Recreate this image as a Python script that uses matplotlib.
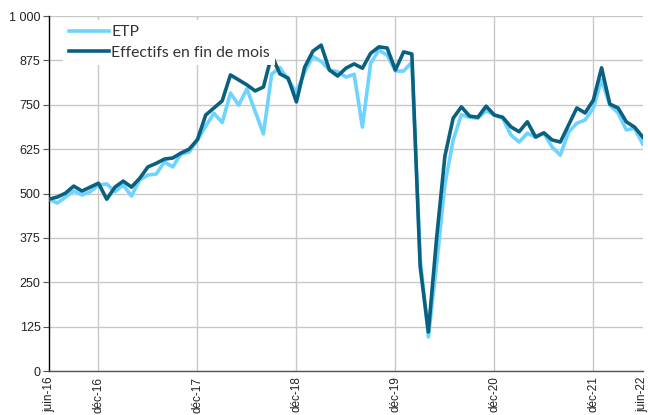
import numpy as np
import matplotlib.pyplot as plt
from matplotlib.ticker import FuncFormatter

# ==========================================================
# DATA (monthly, juin-16 -> juin-22)
# ==========================================================

etp = [
    484, 473, 490, 507, 496, 505, 524, 527, 505, 524, 493, 538,
    552, 555, 589, 575, 611, 617, 650, 690, 726, 700, 783, 749,
    795, 731, 668, 836, 855, 820, 785, 842, 886, 872, 848, 843,
    828, 836, 687, 867, 904, 890, 845, 845, 870, 320, 96, 300,
    525, 650, 722, 715, 712, 733, 721, 712, 665, 645, 670, 659,
    670, 631, 608, 673, 698, 707, 741, 820, 749, 727, 679, 684,
    639,
]

effectifs = [
    484, 490, 501, 521, 507, 518, 529, 484, 518, 535, 518, 543,
    575, 585, 597, 600, 614, 625, 652, 721, 741, 761, 834, 820,
    806, 789, 800, 890, 837, 825, 758, 856, 901, 918, 848, 831,
    853, 865, 853, 895, 913, 910, 848, 899, 893, 295, 110, 375,
    605, 712, 744, 718, 715, 746, 721, 715, 688, 674, 702, 659,
    671, 651, 645, 693, 741, 727, 763, 854, 752, 741, 702, 687,
    659,
]

tick_pos = [0, 6, 18, 30, 42, 54, 66, 72]
tick_labels = ["juin-16", "déc-16", "déc-17", "déc-18", "déc-19",
               "déc-20", "déc-21", "juin-22"]

# ==========================================================
# PLOT
# ==========================================================

LIGHT = "#6ED3FF"
DARK = "#0A617F"
GRID = "#C8C8C8"

fig = plt.figure(figsize=(6.48, 4.15), dpi=100)
ax = fig.add_axes([0.0756, 0.106, 0.9164, 0.8554])

x = np.arange(len(etp))

ax.plot(x, etp, color=LIGHT, linewidth=2.6, label="ETP",
        solid_joinstyle="round", zorder=3)
ax.plot(x, effectifs, color=DARK, linewidth=2.6,
        label="Effectifs en fin de mois", solid_joinstyle="round", zorder=4)

# axes
ax.set_xlim(0, len(etp) - 1)
ax.set_ylim(0, 1000)
ax.set_yticks(np.arange(0, 1001, 125))
ax.yaxis.set_major_formatter(
    FuncFormatter(lambda v, p: f"{int(v):,}".replace(",", " ")))

ax.set_xticks(tick_pos)
ax.set_xticklabels(tick_labels, rotation=90)

# grid: horizontal everywhere, vertical only at déc ticks
ax.yaxis.grid(True, color=GRID, linewidth=1.0, zorder=0)
for pos, lab in zip(tick_pos, tick_labels):
    if lab.startswith("déc"):
        ax.axvline(pos, color=GRID, linewidth=1.0, zorder=0)
ax.set_axisbelow(True)

for s in ["top", "right"]:
    ax.spines[s].set_visible(False)
ax.spines["left"].set_color("#000000")
ax.spines["left"].set_linewidth(1.0)
ax.spines["bottom"].set_color("#555555")
ax.spines["bottom"].set_linewidth(1.0)

ax.tick_params(axis="y", length=4, width=0.8, color="#555555",
               labelsize=9, pad=2)
ax.tick_params(axis="x", length=0, labelsize=8.5, pad=4)
for lab in ax.get_xticklabels() + ax.get_yticklabels():
    lab.set_fontfamily("Liberation Sans")
    lab.set_color("#222222")

# legend: white box over the lines, top-left
leg = ax.legend(loc="upper left", bbox_to_anchor=(0.024, 0.99),
                frameon=True, fancybox=False, borderaxespad=0,
                handlelength=2.55, handletextpad=0.15,
                labelspacing=0.42, borderpad=0.35,
                prop={"family": "Lato", "size": 11.3})
leg.get_frame().set_facecolor("white")
leg.get_frame().set_edgecolor("none")
leg.get_frame().set_alpha(1.0)
leg.set_zorder(10)
for t in leg.get_texts():
    t.set_color("#333333")

fig.savefig("out.png", dpi=100)
